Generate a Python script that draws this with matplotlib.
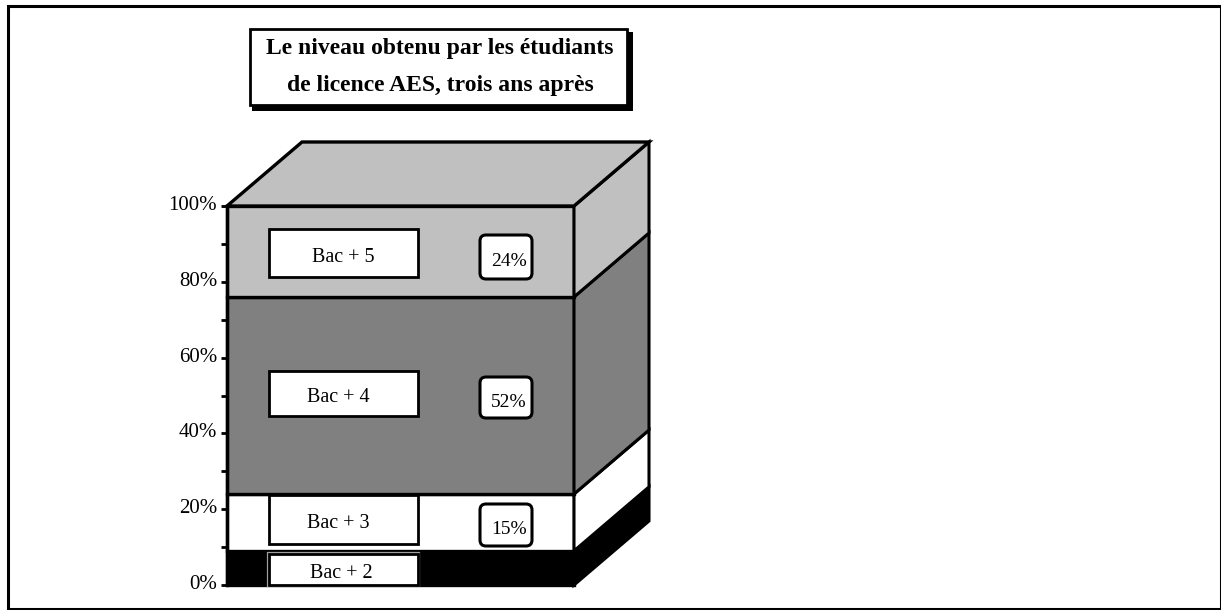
import matplotlib
matplotlib.use("Agg")
import matplotlib.pyplot as plt
from matplotlib.patches import Polygon, Rectangle, FancyBboxPatch
from matplotlib.transforms import ScaledTranslation

# stacked block, bottom to top
levels = ["Bac + 2", "Bac + 3", "Bac + 4", "Bac + 5"]
shares = [9, 15, 52, 24]
value_labels = [None, "15%", "52%", "24%"]
colors = ["#000000", "#ffffff", "#808080", "#c0c0c0"]
tick_values = [0, 20, 40, 60, 80, 100]
tick_labels = ["0%", "20%", "40%", "60%", "80%", "100%"]
minor_ticks = [10, 30, 50, 70, 90]
title_lines = "Le niveau obtenu par les étudiants\nde licence AES, trois ans après"

W, H = 1221, 610
plt.rcParams["font.family"] = ["Liberation Serif", "DejaVu Serif"]

fig = plt.figure(figsize=(W / 100, H / 100), dpi=100, facecolor="white")

# main axes sits exactly on the front face of the block
left, right, top, bottom = 227, 574, 206, 585
ax = fig.add_axes([left / W, 1 - bottom / H, (right - left) / W, (bottom - top) / H])
ax.set_xlim(0, 1)
ax.set_ylim(0, 100)
ax.patch.set_visible(False)

# depth of the block in data units
dx = 75 / (right - left)
dy = 64 / (bottom - top) * 100

base = 0
for share, color in zip(shares, colors):
    y0, y1 = base, base + share
    ax.add_patch(Polygon([(0, y0), (1, y0), (1, y1), (0, y1)], closed=True, fc=color,
                         ec="black", lw=2.4, clip_on=False, joinstyle="miter"))
    ax.add_patch(Polygon([(1, y0), (1 + dx, y0 + dy), (1 + dx, y1 + dy), (1, y1)], closed=True,
                         fc=color, ec="black", lw=2.2, clip_on=False, joinstyle="miter"))
    base = y1

# lid
ax.add_patch(Polygon([(0, 100), (dx, 100 + dy), (1 + dx, 100 + dy), (1, 100)], closed=True,
                     fc=colors[-1], ec="black", lw=2.4, clip_on=False, joinstyle="miter"))

for side in ["top", "right", "bottom"]:
    ax.spines[side].set_visible(False)
ax.spines["left"].set_linewidth(2.4)
ax.set_xticks([])
ax.set_yticks(tick_values)
ax.set_yticklabels(tick_labels, fontsize=15)
ax.set_yticks(minor_ticks, minor=True)
ax.tick_params(axis="y", which="both", length=4, width=2, pad=3)

# labels sit slightly above their ticks
for label in ax.get_yticklabels():
    label.set_transform(label.get_transform() + ScaledTranslation(0, 0.03, fig.dpi_scale_trans))

# overlay in pixel coordinates for the frame, title and label boxes
ov = fig.add_axes([0, 0, 1, 1])
ov.set_xlim(0, W)
ov.set_ylim(H, 0)
ov.axis("off")

ov.add_patch(Rectangle((7.5, 5.5), W - 7.5, H - 6.5, fc="none", ec="black", lw=2.2, clip_on=False))

# title box with its hard shadow
ov.add_patch(Rectangle((252, 32), 381, 79, fc="black", ec="none"))
ov.add_patch(Rectangle((250, 29), 377, 76, fc="white", ec="black", lw=2))
ov.text(440, 67, title_lines, ha="center", va="center", fontsize=17, fontweight="bold",
        linespacing=1.95)

name_boxes = [(554, 585), (495, 544), (371, 416), (229, 277)]
value_boxes = [None, (504, 546), (377, 418), (235, 279)]
name_x = [341, 338, 338, 343]

for i, level in enumerate(levels):
    y0, y1 = name_boxes[i]
    if i == 0:
        # thin grey edge keeps this box readable against the black layer
        ov.add_patch(Rectangle((267.5, y0 - 1), 151, y1 - y0 + 2, fc="none", ec="#a0a0a0", lw=1.6))
    ov.add_patch(Rectangle((268.5, y0), 149, y1 - y0, fc="white", ec="black", lw=2))
    ov.text(name_x[i], (y0 + y1) / 2 + 4, level, ha="center", va="center", fontsize=14.5)
    if value_labels[i] is None:
        continue
    y0, y1 = value_boxes[i]
    ov.add_patch(FancyBboxPatch((486, y0 + 6), 40, y1 - y0 - 12,
                                boxstyle="round,pad=6,rounding_size=6",
                                fc="white", ec="black", lw=2.2))
    ov.text(509, (y0 + y1) / 2 + 5, value_labels[i], ha="center", va="center", fontsize=14)

fig.savefig("out.png", dpi=100, facecolor="white")
